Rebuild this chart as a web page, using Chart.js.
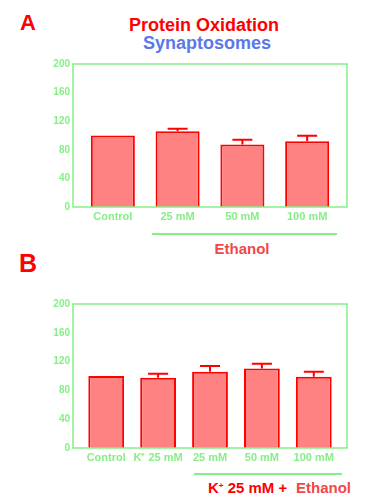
<!DOCTYPE html>
<html>
<head>
<meta charset="utf-8">
<script src="https://cdn.jsdelivr.net/npm/chart.js@4.4.1/dist/chart.umd.min.js"></script>
<style>
  body { margin: 0; background: #fff; font-family: "Liberation Sans", Arial, sans-serif; font-weight: bold; }
  #page { position: relative; width: 387px; height: 500px; overflow: hidden; }
  .txt { position: absolute; line-height: 1; white-space: nowrap; }
  .line { position: absolute; height: 2px; background: #86ee86; }
  .box { position: absolute; left: 0; width: 387px; height: 170px; }
</style>
</head>
<body>
<div id="page">
  <div class="txt" style="left:20px;top:12px;font-size:22px;color:#ff0000;">A</div>
  <div class="txt" style="left:0;width:408px;text-align:center;top:16px;font-size:18px;color:#ff0000;">Protein Oxidation</div>
  <div class="txt" style="left:0;width:414px;text-align:center;top:34px;font-size:18px;color:#5a78e8;">Synaptosomes</div>
  <div class="box" style="top:55px;"><canvas id="chartA"></canvas></div>
  <div class="line" style="left:152px;width:185px;top:233px;"></div>
  <div class="txt" style="left:0;width:484px;text-align:center;top:241px;font-size:15px;color:#f04848;">Ethanol</div>

  <div class="txt" style="left:19px;top:251px;font-size:25px;color:#ff0000;">B</div>
  <div class="box" style="top:295px;"><canvas id="chartB"></canvas></div>
  <div class="line" style="left:194px;width:148px;top:473px;"></div>
  <div class="txt" style="left:208px;top:480px;font-size:15px;color:#ff0000;">K<sup style="font-size:8px;vertical-align:5px;">+</sup> 25 mM +</div>
  <div class="txt" style="left:296px;top:480px;font-size:15px;color:#f04848;">Ethanol</div>
</div>
<script>
// panel A data
const labelsA = ["Control", "25 mM", "50 mM", "100 mM"];
const valuesA = [100, 106, 87.5, 92];
const errorsA = [0, 3.5, 6.5, 7.5];

// panel B data
const labelsB = ["Control", "K\u207A 25 mM", "25 mM", "50 mM", "100 mM"];
const valuesB = [100, 97.5, 106, 110.5, 99];
const errorsB = [0, 5.5, 8, 6.5, 7];

const yTicks = [0, 40, 80, 120, 160, 200];

const green = "#86ee86";
const red = "#ff0000";
const pink = "#ff8282";

// green frame around the plot + upward error bars
const framePlugin = {
    id: "frame",
    afterDatasetsDraw(chart) {
        const ctx = chart.ctx;
        const area = chart.chartArea;
        const errs = chart.options.plugins.frame.errors;
        const xs = chart.scales.x;
        const ys = chart.scales.y;
        const vals = chart.data.datasets[0].data;
        ctx.save();
        ctx.strokeStyle = red;
        ctx.lineWidth = 2;
        vals.forEach(function (pt, i) {
            if (!errs[i]) return;
            const x = xs.getPixelForValue(pt.x);
            const y0 = ys.getPixelForValue(pt.y);
            const y1 = ys.getPixelForValue(pt.y + errs[i]);
            ctx.beginPath();
            ctx.moveTo(x, y0);
            ctx.lineTo(x, y1);
            ctx.moveTo(x - 10, y1);
            ctx.lineTo(x + 10, y1);
            ctx.stroke();
        });
        ctx.strokeStyle = green;
        ctx.lineWidth = 1.5;
        ctx.strokeRect(area.left, area.top, area.right - area.left, area.bottom - area.top);
        ctx.restore();
    },
};

function makeChart(id, labels, values, errors, edge, barPct, padTop, xHeight) {
    new Chart(document.getElementById(id), {
        type: "bar",
        data: {
            datasets: [
                {
                    data: values.map((v, i) => ({ x: i, y: v })),
                    backgroundColor: pink,
                    borderColor: red,
                    borderWidth: 2,
                    borderSkipped: "bottom",
                    categoryPercentage: 1,
                    barPercentage: barPct,
                },
            ],
        },
        options: {
            animation: false,
            responsive: true,
            maintainAspectRatio: false,
            layout: { padding: { left: 0, right: 40, top: padTop, bottom: 0 } },
            scales: {
                x: {
                    type: "linear",
                    offset: false,
                    min: -edge,
                    max: labels.length - 1 + edge,
                    grid: { display: false, drawTicks: false },
                    border: { display: false },
                    afterBuildTicks: (s) => { s.ticks = labels.map((l, i) => ({ value: i })); },
                    afterFit: (s) => { s.height = xHeight; },
                    ticks: {
                        autoSkip: false,
                        maxRotation: 0,
                        padding: 3,
                        color: green,
                        font: { family: "Liberation Sans", size: 11, weight: "bold" },
                        callback: (v) => labels[v],
                    },
                },
                y: {
                    min: 0,
                    max: 200,
                    grid: { display: false, drawTicks: false },
                    border: { display: false },
                    afterBuildTicks: (s) => { s.ticks = yTicks.map((v) => ({ value: v })); },
                    afterFit: (s) => { s.width = 73; },
                    ticks: {
                        padding: 3,
                        color: green,
                        font: { family: "Liberation Sans", size: 10, weight: "bold" },
                    },
                },
            },
            plugins: {
                legend: { display: false },
                tooltip: { enabled: false },
                frame: { errors: errors },
            },
        },
        plugins: [framePlugin],
    });
}

makeChart("chartA", labelsA, valuesA, errorsA, 0.615, 0.68, 7, 18);
makeChart("chartB", labelsB, valuesB, errorsB, 0.64, 0.69, 8, 17);
</script>
</body>
</html>
